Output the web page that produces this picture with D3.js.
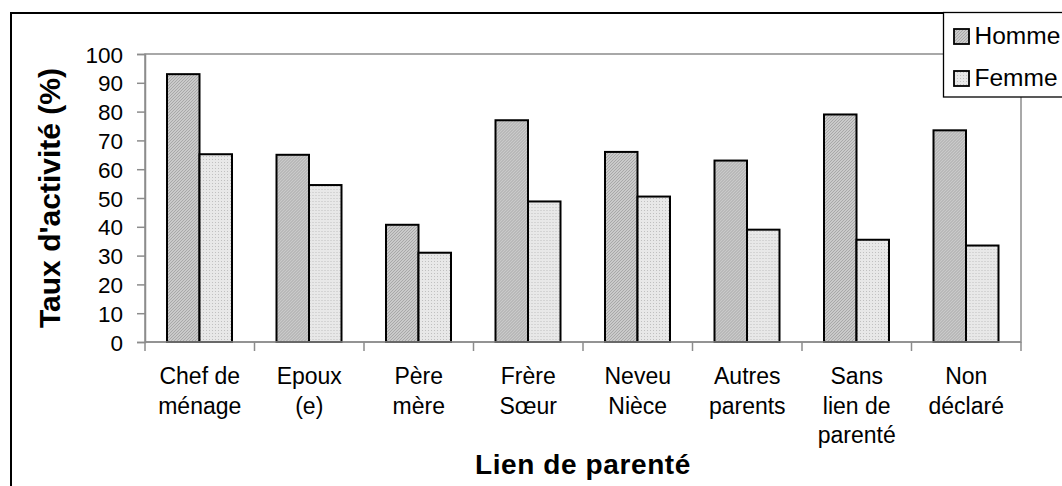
<!DOCTYPE html>
<html>
<head>
<meta charset="utf-8">
<script src="https://cdn.jsdelivr.net/npm/d3@7"></script>
<style>
  body { margin: 0; background: #fff; }
  svg { display: block; font-family: "Liberation Sans", Arial, sans-serif; }
</style>
</head>
<body>
<div id="chart"></div>
<script>
// categories (each one split into its display lines)
const categories = ["Chef de ménage", "Epoux (e)", "Père mère", "Frère Sœur",
  "Neveu Nièce", "Autres parents", "Sans lien de parenté", "Non déclaré"];
const categoryLines = [["Chef de", "ménage"], ["Epoux", "(e)"], ["Père", "mère"], ["Frère", "Sœur"],
  ["Neveu", "Nièce"], ["Autres", "parents"], ["Sans", "lien de", "parenté"], ["Non", "déclaré"]];
const series = ["Homme", "Femme"];
const homme = [93, 65, 40.7, 77, 66, 63, 79, 73.5];
const femme = [65.2, 54.5, 31, 48.8, 50.5, 39, 35.5, 33.5];
const yTicks = [0, 10, 20, 30, 40, 50, 60, 70, 80, 90, 100];

const width = 1062, height = 486;
const margin = { left: 145, right: 41, top: 54, bottom: 144 };
const FONT = "Liberation Sans, Arial, sans-serif";

const svg = d3.select("#chart").append("svg")
  .attr("width", width)
  .attr("height", height);

// fill textures
const defs = svg.append("defs");
const pH = defs.append("pattern").attr("id", "patH")
  .attr("patternUnits", "userSpaceOnUse").attr("width", 3).attr("height", 3);
pH.append("rect").attr("width", 3).attr("height", 3).attr("fill", "#cacaca");
pH.append("path").attr("d", "M0,3 L3,0")
  .attr("stroke", "#a4a4a4").attr("stroke-width", 0.9);
const pF = defs.append("pattern").attr("id", "patF")
  .attr("patternUnits", "userSpaceOnUse").attr("width", 3).attr("height", 3);
pF.append("rect").attr("width", 3).attr("height", 3).attr("fill", "#e8e8e8");
pF.append("rect").attr("width", 1).attr("height", 1).attr("fill", "#c0c0c0");
const fills = { Homme: "url(#patH)", Femme: "url(#patF)" };

// outer chart frame
svg.append("rect")
  .attr("x", 11).attr("y", 13)
  .attr("width", width + 20).attr("height", height + 20)
  .attr("fill", "none").attr("stroke", "#000").attr("stroke-width", 2);

const x = d3.scaleBand()
  .domain(categories)
  .range([margin.left, width - margin.right]);
const y = d3.scaleLinear()
  .domain([0, 100])
  .range([height - margin.bottom, margin.top]);

// plot area border (gray)
svg.append("rect")
  .attr("x", margin.left).attr("y", margin.top)
  .attr("width", x.range()[1] - margin.left)
  .attr("height", y(0) - margin.top)
  .attr("fill", "none").attr("stroke", "#8c8c8c").attr("stroke-width", 1.5);

// bars
const barW = 32.5, pad = 22;
const data = categories.map((c, i) => ({ cat: c, Homme: homme[i], Femme: femme[i] }));
const groups = svg.append("g").selectAll("g")
  .data(data).enter().append("g")
  .attr("transform", d => `translate(${x(d.cat) + pad},0)`);
groups.selectAll("rect")
  .data(d => series.map((s, j) => ({ s, j, v: d[s] })))
  .enter().append("rect")
  .attr("x", d => d.j * barW)
  .attr("y", d => y(d.v))
  .attr("width", barW)
  .attr("height", d => y(0) - y(d.v))
  .attr("fill", d => fills[d.s])
  .attr("stroke", "#000")
  .attr("stroke-width", 2);

// y axis
const yAxis = svg.append("g")
  .attr("transform", `translate(${margin.left},0)`)
  .call(d3.axisLeft(y).tickValues(yTicks).tickSize(8).tickPadding(14));
yAxis.attr("font-size", null).attr("font-family", null);
yAxis.select(".domain").attr("stroke", "#8c8c8c").attr("stroke-width", 1.5);
yAxis.selectAll(".tick line").attr("stroke", "#8c8c8c").attr("stroke-width", 1.5);
yAxis.selectAll(".tick text")
  .style("font-size", "22.5px").style("font-family", FONT)
  .attr("fill", "#000").attr("dy", "0.36em");

// x axis (ticks at category boundaries)
const xAxisG = svg.append("g")
  .attr("transform", `translate(0,${y(0)})`);
xAxisG.append("line")
  .attr("x1", margin.left).attr("x2", x.range()[1])
  .attr("stroke", "#8c8c8c").attr("stroke-width", 1.5);
const bounds = categories.map(c => x(c)).concat([x.range()[1]]);
xAxisG.selectAll(".xt").data(bounds).enter().append("line")
  .attr("x1", d => d).attr("x2", d => d)
  .attr("y1", 0).attr("y2", 9)
  .attr("stroke", "#8c8c8c").attr("stroke-width", 1.5);

// category labels
const lab = svg.append("g").selectAll("text")
  .data(categories).enter().append("text")
  .attr("x", d => x(d) + x.bandwidth() / 2)
  .attr("y", 384)
  .attr("text-anchor", "middle")
  .style("font-size", "23px");
lab.selectAll("tspan")
  .data((d, i) => categoryLines[i])
  .enter().append("tspan")
  .attr("x", function () { return this.parentNode.getAttribute("x"); })
  .attr("dy", (d, i) => i === 0 ? 0 : 29.5)
  .text(d => d);

// axis titles
svg.append("text")
  .attr("x", (margin.left + x.range()[1]) / 2)
  .attr("y", 474)
  .attr("text-anchor", "middle")
  .style("font-size", "28px").attr("font-weight", "bold")
  .attr("letter-spacing", 0.6)
  .text("Lien de parenté");
svg.append("text")
  .attr("transform", `translate(60,${(y(0) + y(100)) / 2}) rotate(-90)`)
  .attr("text-anchor", "middle")
  .style("font-size", "30px").attr("font-weight", "bold")
  .text("Taux d'activité (%)");

// legend
const leg = svg.append("g");
leg.append("rect")
  .attr("x", 943.5).attr("y", 12.5)
  .attr("width", 200).attr("height", 84.5)
  .attr("fill", "#fff").attr("stroke", "#000").attr("stroke-width", 1.3);
series.forEach((s, i) => {
  const base = 44 + i * 42;
  leg.append("rect")
    .attr("x", 954).attr("y", base - 15)
    .attr("width", 15).attr("height", 15)
    .attr("fill", fills[s]).attr("stroke", "#000").attr("stroke-width", 1.8);
  leg.append("text")
    .attr("x", 974.5).attr("y", base)
    .style("font-size", "24.5px")
    .text(s);
});
</script>
</body>
</html>
